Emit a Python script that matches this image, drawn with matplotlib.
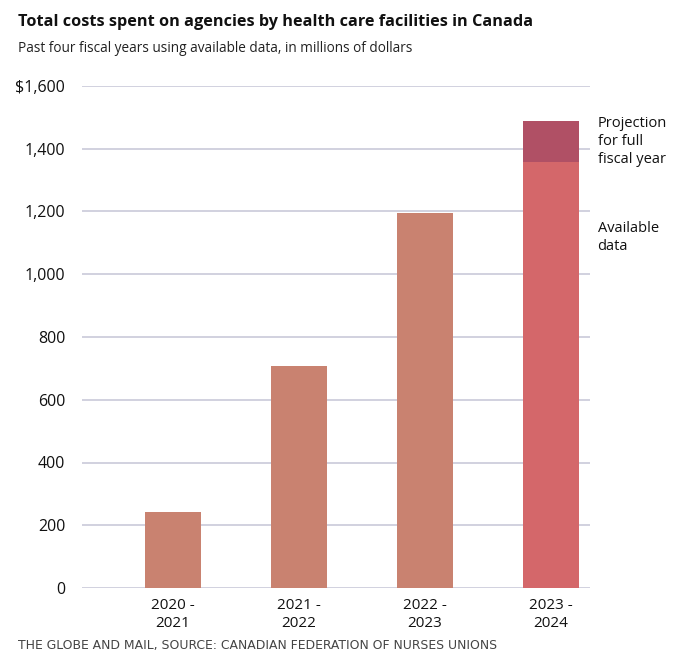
import numpy as np
import matplotlib.pyplot as plt

plt.rcParams['font.family'] = ['Open Sans', 'DejaVu Sans']

# data, millions of dollars
years = ['2020 -\n2021', '2021 -\n2022', '2022 -\n2023', '2023 -\n2024']
available = [242, 707, 1195, 1358]
projection = [0, 0, 0, 1488]
yticks = [0, 200, 400, 600, 800, 1000, 1200, 1400, 1600]
ytick_labels = ['0', '200', '400', '600', '800', '1,000', '1,200', '1,400', '$1,600']

bar_colors = ['#c98270', '#c98270', '#c98270', '#d4676a']
proj_color = '#b05065'

W, H = 680, 664
fig = plt.figure(figsize=(W / 100, H / 100), dpi=100)
ax = fig.add_axes([82 / W, 1 - 588 / H, (590 - 82) / W, (588 - 86) / H])

x = np.arange(len(years))
extra = np.array(projection) - np.array(available)
extra[extra < 0] = 0
ax.bar(x, available, width=0.444, color=bar_colors, zorder=3)
ax.bar(x, extra, bottom=available, width=0.444, color=proj_color, zorder=3)

ax.set_xlim(-0.722, 3.31)
ax.set_ylim(0, 1600)
ax.set_yticks(yticks)
ax.set_yticklabels(ytick_labels, fontsize=11.5)
ax.set_xticks(x)
ax.set_xticklabels(years, fontsize=11, linespacing=1.3)
ax.yaxis.grid(True, color='#c9c9d9', linewidth=1.2, zorder=0)
ax.tick_params(axis='both', length=0, colors='#111111')
ax.tick_params(axis='y', pad=12)
ax.tick_params(axis='x', pad=7)
for s in ax.spines.values():
    s.set_visible(False)

ax.text(1.015, 1505, 'Projection\nfor full\nfiscal year', transform=ax.get_yaxis_transform(),
        fontsize=10.5, va='top', ha='left', linespacing=1.3, color='#111111')
ax.text(1.015, 1170, 'Available\ndata', transform=ax.get_yaxis_transform(),
        fontsize=10.5, va='top', ha='left', linespacing=1.3, color='#111111')

fig.text(18 / W, 1 - 22 / H, 'Total costs spent on agencies by health care facilities in Canada',
         fontsize=11.7, fontweight='bold', va='center', ha='left', color='#111111')
fig.text(18 / W, 1 - 49 / H, 'Past four fiscal years using available data, in millions of dollars',
         fontsize=9.8, va='center', ha='left', color='#222222')
fig.text(18 / W, 1 - 645 / H, 'THE GLOBE AND MAIL, SOURCE: CANADIAN FEDERATION OF NURSES UNIONS',
         fontsize=8.9, va='center', ha='left', color='#444444', family='DejaVu Sans')

fig.savefig('out.png', dpi=100, facecolor='white')
